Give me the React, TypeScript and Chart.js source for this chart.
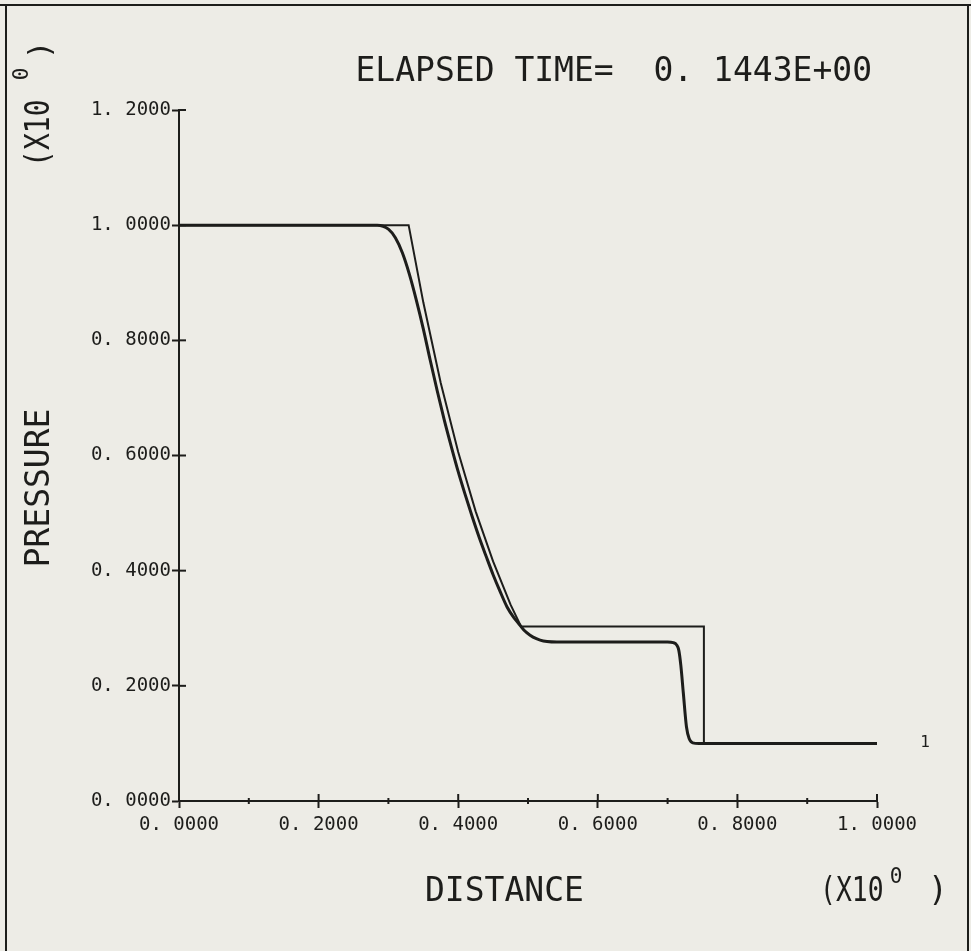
import React, { useEffect, useRef } from 'react';
import { Chart, registerables } from 'chart.js';

Chart.register(...registerables);

// Exact (analytic) solution, thin line
const exactDistance = [0, 0.329, 0.35, 0.375, 0.4, 0.425, 0.45, 0.475, 0.49, 0.752, 0.752, 1.0];
const exactPressure = [1.0, 1.0, 0.866, 0.726, 0.606, 0.503, 0.416, 0.341, 0.303, 0.303, 0.1, 0.1];

// Computed solution, thick line
const computedDistance = [
  0, 0.284, 0.3, 0.31, 0.32, 0.33, 0.34, 0.35, 0.36, 0.37, 0.38, 0.39, 0.4, 0.41, 0.42, 0.43, 0.44,
  0.45, 0.46, 0.47, 0.48, 0.486, 0.494, 0.503, 0.512, 0.522, 0.55, 0.6, 0.65, 0.7, 0.708, 0.713,
  0.716, 0.719, 0.7225, 0.727, 0.731, 0.736, 0.745, 1.0,
];
const computedPressure = [
  1.0, 1.0, 0.993, 0.978, 0.952, 0.915, 0.87, 0.82, 0.765, 0.712, 0.662, 0.616, 0.572, 0.532, 0.494,
  0.458, 0.425, 0.393, 0.364, 0.337, 0.318, 0.309, 0.297, 0.288, 0.282, 0.278, 0.276, 0.276, 0.276,
  0.276, 0.275, 0.271, 0.262, 0.235, 0.188, 0.129, 0.108, 0.101, 0.1, 0.1,
];

const xTickLabels = ['0. 0000', '0. 2000', '0. 4000', '0. 6000', '0. 8000', '1. 0000'];
const yTickLabels = ['0. 0000', '0. 2000', '0. 4000', '0. 6000', '0. 8000', '1. 0000', '1. 2000'];

const titleText = 'ELAPSED TIME=  0. 1443E+00';
const xAxisTitle = 'DISTANCE';
const yAxisTitle = 'PRESSURE';
const curveLabel = '1';

const INK = '#1d1d1b';
const PAPER = '#edece6';
const MONO = '"DejaVu Sans Mono"';

const decorPlugin = {
  id: 'plotterDecor',
  beforeDraw(chart: any) {
    const { ctx, width, height } = chart;
    ctx.save();
    ctx.fillStyle = PAPER;
    ctx.fillRect(0, 0, width, height);
    ctx.restore();
  },
  afterDraw(chart: any) {
    const { ctx, chartArea: a, scales } = chart;
    const xs = scales.x;
    const ys = scales.y;
    ctx.save();
    ctx.strokeStyle = INK;
    ctx.fillStyle = INK;
    ctx.lineWidth = 2;
    const line = (x1: number, y1: number, x2: number, y2: number) => {
      ctx.beginPath();
      ctx.moveTo(x1, y1);
      ctx.lineTo(x2, y2);
      ctx.stroke();
    };
    // inner halves of ticks
    ys.ticks.forEach((t: any) => {
      const py = ys.getPixelForValue(t.value);
      line(a.left, py, a.left + 7, py);
    });
    xs.ticks.forEach((t: any, i: number) => {
      const px = xs.getPixelForValue(t.value);
      if (i % 2 === 0) line(px, a.bottom, px, a.bottom - 7);
      else line(px, a.bottom - 3, px, a.bottom + 3);
    });
    // page frame
    line(0, 5, chart.width, 5);
    line(6, 5, 6, chart.height);
    line(chart.width - 3, 5, chart.width - 3, chart.height);

    // title
    ctx.font = `33px ${MONO}`;
    ctx.textBaseline = 'middle';
    ctx.textAlign = 'right';
    ctx.fillText(titleText, a.right - 5, a.top - 38);

    // x-axis title and multiplier
    ctx.textAlign = 'left';
    ctx.fillText(xAxisTitle, a.left + 246, a.bottom + 91);
    ctx.save();
    ctx.translate(a.right - 57, a.bottom + 91);
    ctx.scale(0.8, 1);
    ctx.fillText('(X10', 0, 0);
    ctx.restore();
    ctx.textAlign = 'center';
    ctx.fillText(')', a.right + 61, a.bottom + 91);
    ctx.font = `21px ${MONO}`;
    ctx.fillText('0', a.right + 19, a.bottom + 77);

    // y-axis title and multiplier (rotated)
    ctx.save();
    ctx.translate(40, a.top + 378);
    ctx.rotate(-Math.PI / 2);
    ctx.font = `33px ${MONO}`;
    ctx.textAlign = 'center';
    ctx.fillText(yAxisTitle, 0, 0);
    ctx.restore();

    ctx.save();
    ctx.translate(40, a.top + 57);
    ctx.rotate(-Math.PI / 2);
    ctx.scale(0.85, 1);
    ctx.font = `33px ${MONO}`;
    ctx.textAlign = 'left';
    ctx.fillText('(X10', 0, 0);
    ctx.restore();

    ctx.save();
    ctx.translate(23, a.top - 36);
    ctx.rotate(-Math.PI / 2);
    ctx.font = `21px ${MONO}`;
    ctx.textAlign = 'center';
    ctx.fillText('0', 0, 0);
    ctx.restore();

    ctx.save();
    ctx.translate(42, a.top - 60);
    ctx.rotate(-Math.PI / 2);
    ctx.font = `31px ${MONO}`;
    ctx.textAlign = 'center';
    ctx.fillText(')', 0, 0);
    ctx.restore();

    // curve label
    ctx.font = `16px ${MONO}`;
    ctx.textAlign = 'center';
    ctx.fillText(curveLabel, xs.getPixelForValue(1.0) + 48, ys.getPixelForValue(0.1) - 1);

    ctx.restore();
  },
};

export default function App() {
  const canvasRef = useRef<HTMLCanvasElement | null>(null);

  useEffect(() => {
    document.body.style.margin = '0';
    const canvas = canvasRef.current;
    if (!canvas) return;
    const exact = exactDistance.map((x, i) => ({ x, y: exactPressure[i] }));
    const computed = computedDistance.map((x, i) => ({ x, y: computedPressure[i] }));

    const chart = new Chart(canvas, {
      type: 'line',
      data: {
        datasets: [
          {
            label: 'exact',
            data: exact,
            borderColor: INK,
            borderWidth: 2,
            pointRadius: 0,
            tension: 0,
            fill: false,
          },
          {
            label: 'computed',
            data: computed,
            borderColor: INK,
            borderWidth: 3,
            pointRadius: 0,
            cubicInterpolationMode: 'monotone',
            fill: false,
          },
        ],
      },
      options: {
        animation: false,
        responsive: false,
        devicePixelRatio: 1,
        layout: { padding: { left: 0, right: 94, top: 110, bottom: 0 } },
        plugins: {
          legend: { display: false },
          tooltip: { enabled: false },
          title: { display: false },
        },
        scales: {
          x: {
            type: 'linear',
            min: 0,
            max: 1,
            afterFit: (s: any) => {
              s.height = 150;
            },
            ticks: {
              stepSize: 0.1,
              autoSkip: false,
              maxRotation: 0,
              minRotation: 0,
              padding: 6,
              color: INK,
              font: { family: MONO, size: 19 },
              callback: (_v: any, i: number) => (i % 2 === 0 ? xTickLabels[i / 2] : ''),
            },
            grid: {
              drawOnChartArea: false,
              tickLength: 7,
              tickWidth: 2,
              color: INK,
              tickColor: (c: any) => (c.index % 2 === 0 ? INK : 'rgba(0,0,0,0)'),
            },
            border: { color: INK, width: 2 },
          },
          y: {
            type: 'linear',
            min: 0,
            max: 1.2,
            afterFit: (s: any) => {
              s.width = 179;
            },
            ticks: {
              stepSize: 0.2,
              autoSkip: false,
              padding: 1,
              color: INK,
              font: { family: MONO, size: 19 },
              callback: (_v: any, i: number) => yTickLabels[i],
            },
            grid: {
              drawOnChartArea: false,
              tickLength: 7,
              tickWidth: 2,
              color: INK,
            },
            border: { color: INK, width: 2 },
          },
        },
      },
      plugins: [decorPlugin],
    });
    return () => chart.destroy();
  }, []);

  return (
    <div style={{ position: 'absolute', left: 0, top: 0, width: 971, height: 951, background: PAPER }}>
      <canvas ref={canvasRef} width={971} height={951} style={{ display: 'block', width: 971, height: 951 }} />
    </div>
  );
}
